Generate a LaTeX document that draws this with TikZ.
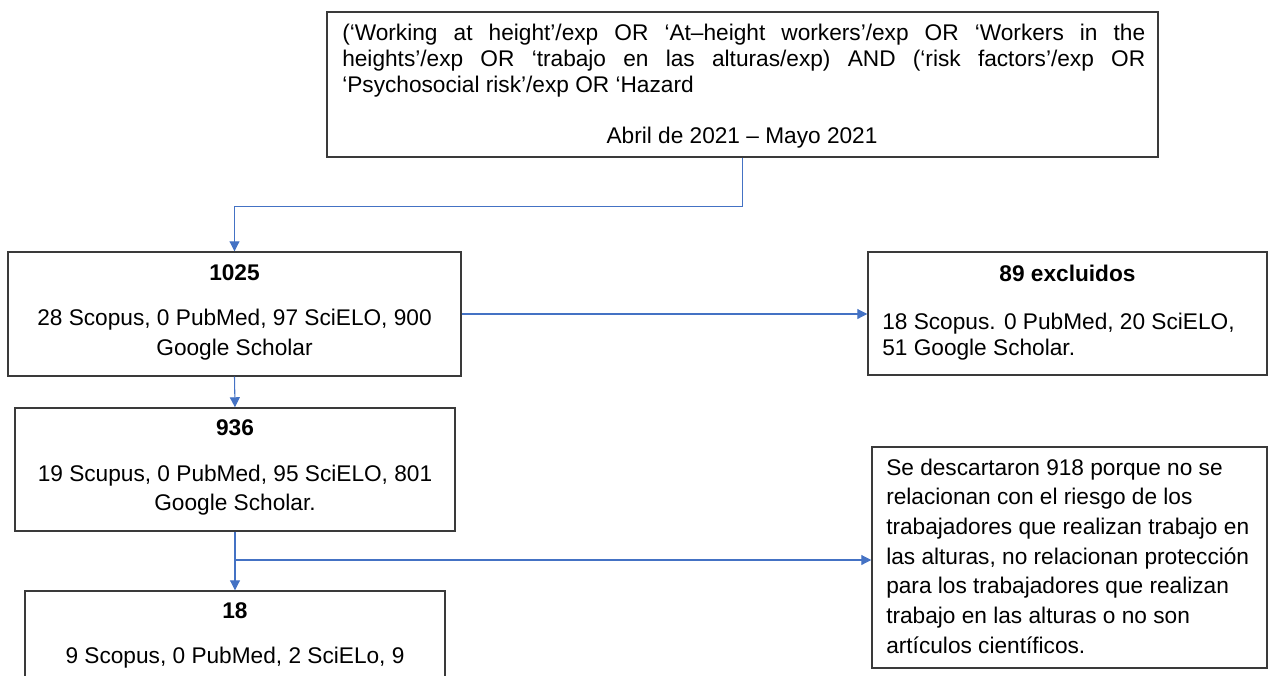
\documentclass[tikz,border=0pt]{standalone}
\usepackage{fontspec}
\setmainfont{Liberation Sans}
\usetikzlibrary{arrows.meta}
\definecolor{arrowblue}{HTML}{4472C4}
\definecolor{boxline}{HTML}{3A3A3A}
\begin{document}
\begin{tikzpicture}[x=0.75pt,y=-0.75pt,
  box/.style={draw=boxline, line width=1.1pt, inner sep=0pt, rectangle},
  txt/.style={inner sep=0pt, font=\fontsize{17}{22.5}\selectfont},
  ttl/.style={inner sep=0pt, font=\fontsize{17}{20}\selectfont\bfseries, anchor=base},
  conn/.style={draw=arrowblue, line width=0.8pt, -{Triangle[length=7.5pt,width=7.5pt]}}]
\useasboundingbox (0,0) rectangle (1273,675);

% boxes
\node[box, minimum width=831*0.75pt, minimum height=145*0.75pt] (top) at (742.5,84.5) {};
\node[box, minimum width=453*0.75pt, minimum height=124*0.75pt] (n1025) at (234.5,314) {};
\node[box, minimum width=399*0.75pt, minimum height=123*0.75pt] (n89) at (1067.5,313.5) {};
\node[box, minimum width=440*0.75pt, minimum height=123*0.75pt] (n936) at (235,469.5) {};
\node[box, minimum width=420*0.75pt, minimum height=129*0.75pt] (n18) at (235,655.5) {};
\node[box, minimum width=395*0.75pt, minimum height=221*0.75pt] (nse) at (1069.5,557.5) {};

% texts (multi-line nodes are anchored at the baseline of their last line)
\node[txt, font=\fontsize{17}{19.5}\selectfont, text width=602.25pt, align=justify, anchor=base west] (qtext) at (342,40)
  {(‘Working at height’/exp OR ‘At–height workers’/exp OR ‘Workers in the\linebreak heights’/exp OR ‘trabajo en las alturas/exp) AND (‘risk factors’/exp OR\linebreak ‘Psychosocial risk’/exp OR ‘Hazard};
\node[txt, anchor=base] (qdate) at (742,143) {Abril de 2021 – Mayo 2021};

\node[ttl] (t1025) at (234.5,280) {1025};
\node[txt, align=center, anchor=base] (b1025) at (234.5,355) {28 Scopus, 0 PubMed, 97 SciELO, 900\\Google Scholar};

\node[ttl] (t89) at (1067.5,281) {89 excluidos};
\node[txt, font=\fontsize{17}{19.5}\selectfont, align=left, anchor=base west] (b89) at (882,355) {18 Scopus. 0 PubMed, 20 SciELO,\\51 Google Scholar.};

\node[ttl] (t936) at (235,435) {936};
\node[txt, font=\fontsize{17}{21.75}\selectfont, align=center, anchor=base] (b936) at (235,510) {19 Scupus, 0 PubMed, 95 SciELO, 801\\Google Scholar.};

\node[ttl] (t18) at (235,618) {18};
\node[txt, anchor=base] (b18) at (235,663) {9 Scopus, 0 PubMed, 2 SciELo, 9};

\node[txt, font=\fontsize{17}{22.25}\selectfont, align=left, anchor=base west] (bse) at (886,653)
  {Se descartaron 918 porque no se\\relacionan con el riesgo de los\\trabajadores que realizan trabajo en\\las alturas, no relacionan protección\\para los trabajadores que realizan\\trabajo en las alturas o no son\\artículos científicos.};

% connectors
\draw[conn] (top.south) -- ++(0,49) -| (n1025.north);
\draw[conn] (n1025.east) -- (n1025.east -| n89.west);
\draw[conn] (n1025.south) -- (n936.north);
\draw[conn] (n936.south) -- (n18.north);
\coordinate (br) at (235,560);
\draw[conn] (br) -- (br -| nse.west);
\end{tikzpicture}
\end{document}
